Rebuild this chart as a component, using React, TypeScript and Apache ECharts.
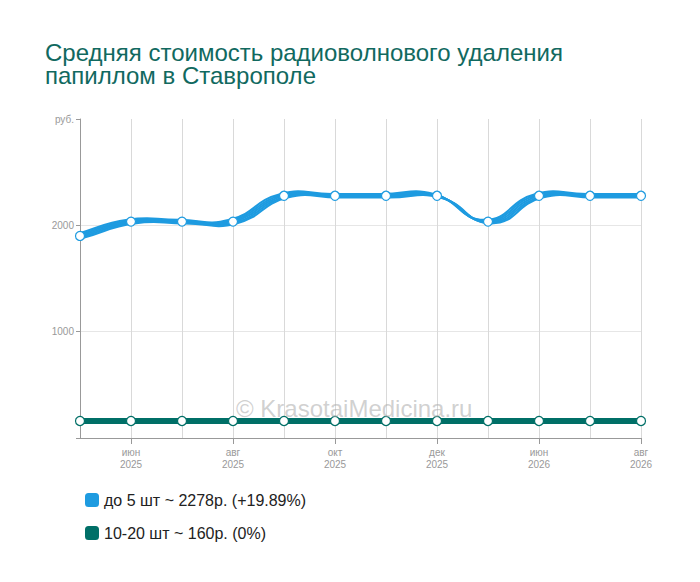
import React, { useEffect, useRef } from 'react';
import * as echarts from 'echarts';

const months = [
  'май\n2025', 'июн\n2025', 'июл\n2025', 'авг\n2025', 'сен\n2025', 'окт\n2025',
  'ноя\n2025', 'дек\n2025', 'янв\n2026', 'июн\n2026', 'июл\n2026', 'авг\n2026'
];
const upTo5 = [1900, 2035, 2035, 2035, 2278, 2278, 2278, 2278, 2035, 2278, 2278, 2278];
const from10to20 = [160, 160, 160, 160, 160, 160, 160, 160, 160, 160, 160, 160];
const seriesNames = ['до 5 шт ~ 2278р. (+19.89%)', '10-20 шт ~ 160р. (0%)'];
const seriesColors = ['#1e9be0', '#006f67'];
const titleText = 'Средняя стоимость радиоволнового удаления\nпапиллом в Ставрополе';

const FONT = 'Liberation Sans, Arial, sans-serif';

// spline through the points (no monotone clamp), drawn as a few offset strokes
const renderCurve = (params: any, api: any) => {
  const i = params.dataIndex;
  const n = upTo5.length;
  if (i >= n - 1) return null;
  const P = (j: number) => {
    const k = Math.min(Math.max(j, 0), n - 1);
    return api.coord([k, upTo5[k]]);
  };
  const ctrl = (j: number) => {
    const cur = P(j);
    const prev = P(j - 1);
    const next = P(j + 1);
    const vx = next[0] - prev[0];
    const vy = next[1] - prev[1];
    const lp = Math.hypot(cur[0] - prev[0], cur[1] - prev[1]);
    const ln = Math.hypot(cur[0] - next[0], cur[1] - next[1]);
    const sum = lp + ln || 1;
    return {
      before: [cur[0] - vx * 0.5 * lp / sum, cur[1] - vy * 0.5 * lp / sum],
      after: [cur[0] + vx * 0.5 * ln / sum, cur[1] + vy * 0.5 * ln / sum]
    };
  };
  const a = P(i);
  const b = P(i + 1);
  const c1 = ctrl(i).after;
  const c2 = ctrl(i + 1).before;
  const children = [];
  for (let k = -2; k <= 2; k++) {
    const dx = k * 1.7;
    const dy = k * 0.9;
    children.push({
      type: 'bezierCurve',
      shape: {
        x1: a[0] + dx, y1: a[1] + dy,
        x2: b[0] + dx, y2: b[1] + dy,
        cpx1: c1[0] + dx, cpy1: c1[1] + dy,
        cpx2: c2[0] + dx, cpy2: c2[1] + dy
      },
      style: { stroke: seriesColors[0], lineWidth: 2.1, fill: null }
    });
  }
  return { type: 'group', children };
};

const App: React.FC = () => {
  const chartRef = useRef<HTMLDivElement>(null);

  useEffect(() => {
    if (!chartRef.current) return;
    const chart = echarts.init(chartRef.current, null, { renderer: 'svg' });

    const shown = (i: number) => i % 2 === 1;

    const option = {
      animation: false,
      textStyle: { fontFamily: FONT },
      title: {
        text: titleText,
        left: 40,
        top: 36,
        textStyle: { color: '#11695f', fontSize: 24, fontWeight: 'normal', lineHeight: 23, fontFamily: FONT }
      },
      grid: { left: 80, right: 59, top: 119, bottom: 144, containLabel: false },
      legend: {
        orient: 'vertical',
        left: 80,
        top: 487,
        itemWidth: 14,
        itemHeight: 14,
        itemGap: 17,
        icon: 'roundRect',
        textStyle: { fontSize: 16, color: '#222' },
        data: seriesNames.map((name, i) => ({
          name,
          itemStyle: { color: seriesColors[i], borderWidth: 0 }
        }))
      },
      graphic: [
        {
          type: 'text',
          left: 236,
          top: 396,
          style: {
            text: '© KrasotaiMedicina.ru',
            fill: 'rgba(170,170,170,0.55)',
            fontSize: 24,
            fontFamily: FONT
          },
          z: 100
        }
      ],
      xAxis: {
        type: 'category',
        data: months,
        boundaryGap: false,
        axisLine: { lineStyle: { color: '#999' } },
        axisTick: { show: true, length: 6, interval: (i: number) => shown(i), lineStyle: { color: '#999' } },
        axisLabel: {
          interval: (i: number) => shown(i),
          color: '#999',
          fontSize: 10,
          lineHeight: 12,
          margin: 8
        },
        splitLine: { show: true, interval: 0, lineStyle: { color: '#d9d9d9' } }
      },
      yAxis: {
        type: 'value',
        min: 0,
        max: 3000,
        interval: 1000,
        axisLine: { show: true, lineStyle: { color: '#999' } },
        axisTick: { show: true, length: 4, lineStyle: { color: '#999' } },
        axisLabel: {
          color: '#999',
          fontSize: 10,
          margin: 6,
          formatter: (v: number) => (v === 0 ? '' : v === 3000 ? 'руб.' : String(v))
        },
        splitLine: {
          show: true,
          lineStyle: { color: ['transparent', '#e6e6e6', '#e6e6e6', 'transparent'] }
        }
      },
      series: [
        {
          name: 'curve',
          type: 'custom',
          coordinateSystem: 'cartesian2d',
          data: upTo5.map((v, i) => [i, v]),
          encode: { x: 0, y: 1 },
          renderItem: renderCurve,
          silent: true,
          z: 2
        },
        {
          name: seriesNames[0],
          type: 'line',
          data: upTo5,
          symbol: 'circle',
          symbolSize: 9,
          color: seriesColors[0],
          lineStyle: { width: 0, opacity: 0 },
          itemStyle: { color: '#fff', borderColor: seriesColors[0], borderWidth: 1.2 },
          z: 3
        },
        {
          name: seriesNames[1],
          type: 'line',
          data: from10to20,
          symbol: 'circle',
          symbolSize: 9,
          color: seriesColors[1],
          lineStyle: { width: 6, color: seriesColors[1] },
          itemStyle: { color: '#fff', borderColor: seriesColors[1], borderWidth: 1.2 },
          z: 3
        }
      ]
    };

    chart.setOption(option);

    return () => {
      chart.dispose();
    };
  }, []);

  return (
    <div
      ref={chartRef}
      style={{ position: 'absolute', left: 0, top: 0, width: '700px', height: '582px', background: '#fff' }}
    />
  );
};

export default App;
